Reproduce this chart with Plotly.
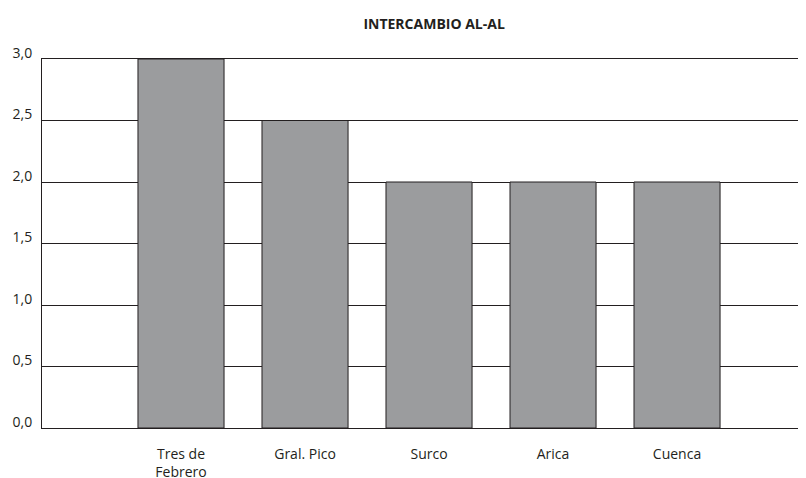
import plotly.graph_objs as go

categories = ["Tres de<br>Febrero", "Gral. Pico", "Surco", "Arica", "Cuenca"]
values = [3.0, 2.5, 2.0, 2.0, 2.0]
positions = [1, 2, 3, 4, 5]
y_ticks = [0, 0.5, 1.0, 1.5, 2.0, 2.5, 3.0]

fig = go.Figure()
fig.add_trace(
    go.Bar(
        x=positions,
        y=values,
        width=0.694,
        marker=dict(color="#9b9c9e", line=dict(color="#231f20", width=1)),
        showlegend=False,
    )
)

# page body has an 8px margin, so size the figure to fill the rest
fig.update_layout(
    width=798,
    height=470,
    margin=dict(l=34, r=0, t=51, b=50),
    plot_bgcolor="white",
    paper_bgcolor="white",
    separators=",.",
    font=dict(family="Open Sans, Noto Sans", size=14, color="#231f20"),
    title=dict(
        text="<b>INTERCAMBIO AL-AL</b>",
        x=0.534,
        xanchor="center",
        y=0.966,
        yanchor="middle",
        font=dict(size=14, color="#231f20"),
    ),
)
fig.update_xaxes(
    range=[-0.121, 6.04],
    tickvals=positions,
    ticktext=categories,
    showgrid=False,
    showline=True,
    mirror=True,
    linecolor="#231f20",
    linewidth=1,
    ticks="",
    ticklabelstandoff=13,
    zeroline=False,
    automargin=False,
)
fig.update_yaxes(
    range=[0, 3.0],
    tickvals=y_ticks,
    tickformat=".1f",
    showgrid=True,
    gridcolor="#231f20",
    gridwidth=1,
    showline=True,
    linecolor="#231f20",
    linewidth=1,
    ticks="",
    ticklabelstandoff=6,
    ticklabelshift=-6,
    zeroline=False,
    automargin=False,
)

fig.write_html("out.html")
